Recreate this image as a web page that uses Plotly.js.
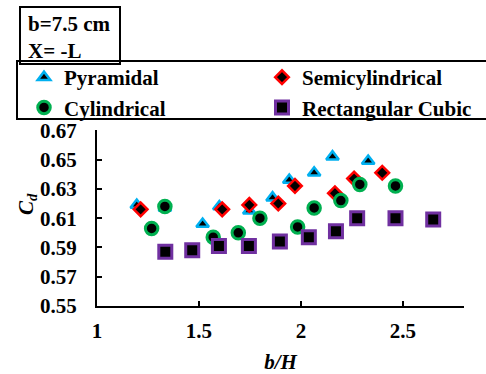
<!DOCTYPE html>
<html>
<head>
<meta charset="utf-8">
<script src="https://cdn.plot.ly/plotly-3.0.1.min.js"></script>
<style>html,body{margin:0;padding:0;background:#fff;}#chart{width:486px;height:374px;}</style>
</head>
<body>
<div id="chart"></div>
<script>
// Data
const pyrX = [1.195, 1.333, 1.518, 1.600, 1.747, 1.861, 1.943, 2.065, 2.155, 2.330];
const pyrY = [0.619, 0.617, 0.606, 0.618, 0.615, 0.624, 0.636, 0.641, 0.652, 0.649];

const semiX = [1.214, 1.614, 1.747, 1.889, 1.971, 2.167, 2.261, 2.399];
const semiY = [0.616, 0.616, 0.619, 0.620, 0.632, 0.627, 0.637, 0.641];

const cylX = [1.268, 1.333, 1.570, 1.693, 1.799, 1.984, 2.065, 2.196, 2.289, 2.464];
const cylY = [0.603, 0.618, 0.597, 0.600, 0.610, 0.604, 0.617, 0.622, 0.633, 0.632];

const rectX = [1.335, 1.467, 1.598, 1.745, 1.897, 2.039, 2.172, 2.276, 2.464, 2.649];
const rectY = [0.587, 0.588, 0.591, 0.591, 0.594, 0.597, 0.601, 0.610, 0.610, 0.609];

const seriesNames = ['Pyramidal', 'Semicylindrical', 'Cylindrical', 'Rectangular Cubic'];
const xTickVals = [1, 1.5, 2, 2.5];
const yTickVals = [0.55, 0.57, 0.59, 0.61, 0.63, 0.65, 0.67];
const yTickText = ['0.55', '0.57', '0.59', '0.61', '0.63', '0.65', '0.67'];
const infoText = 'b=7.5 cm<br>X= -L';
const xTitle = 'b/H';
const yTitle = '<i>C</i><sub><i>d</i></sub>';

const FONT = 'Liberation Serif';
const F = (size) => ({family: FONT, size: size, color: '#000000', weight: 700});

const traces = [
  {x: pyrX, y: pyrY, name: seriesNames[0], type: 'scatter', mode: 'markers', legend: 'legend',
   marker: {symbol: 'triangle-up', size: 11, color: '#000000', line: {color: '#00B0F0', width: 2.5}}},
  {x: semiX, y: semiY, name: seriesNames[1], type: 'scatter', mode: 'markers', legend: 'legend2',
   marker: {symbol: 'diamond', size: 10.5, color: '#000000', line: {color: '#FF0000', width: 2.5}}},
  {x: cylX, y: cylY, name: seriesNames[2], type: 'scatter', mode: 'markers', legend: 'legend',
   marker: {symbol: 'circle', size: 12.5, color: '#000000', line: {color: '#00B050', width: 3}}},
  {x: rectX, y: rectY, name: seriesNames[3], type: 'scatter', mode: 'markers', legend: 'legend2',
   marker: {symbol: 'square', size: 13, color: '#000000', line: {color: '#7030A0', width: 3}}}
];

const L = 97, R = 22, T = 130, B = 68;
const W = 486 - L - R, H = 374 - T - B;
const px2x = p => (p - L) / W;
const px2y = p => (374 - B - p) / H;

const layout = {
  width: 486, height: 374,
  margin: {l: L, r: R, t: T, b: B, pad: 0, autoexpand: false},
  paper_bgcolor: '#ffffff', plot_bgcolor: '#ffffff',
  font: F(21),
  showlegend: true,
  xaxis: {
    range: [1, 2.8], tickvals: xTickVals, ticks: 'inside', ticklen: 5, tickwidth: 2, tickcolor: '#000',
    showline: true, linecolor: '#000', linewidth: 2, showgrid: false, zeroline: false,
    tickfont: F(21), ticklabelstandoff: 5,
    title: {text: '<b><i>' + xTitle + '</i></b>', font: F(21), standoff: 13}
  },
  yaxis: {
    range: [0.55, 0.6702], tickvals: yTickVals, ticktext: yTickText, ticks: 'inside', ticklen: 5, tickwidth: 2, tickcolor: '#000',
    showline: true, linecolor: '#000', linewidth: 2, showgrid: false, zeroline: false,
    tickfont: F(21), ticklabelstandoff: 14
  },
  legend: {
    x: px2x(24), y: px2y(57), xanchor: 'left', yanchor: 'top', orientation: 'v',
    bgcolor: 'rgba(0,0,0,0)', borderwidth: 0, font: F(21)
  },
  legend2: {
    x: px2x(262), y: px2y(57), xanchor: 'left', yanchor: 'top', orientation: 'v',
    bgcolor: 'rgba(0,0,0,0)', borderwidth: 0, font: F(21)
  },
  shapes: [
    {type: 'rect', xref: 'paper', yref: 'paper', x0: px2x(17), x1: px2x(495), y0: px2y(119), y1: px2y(61),
     line: {color: '#000', width: 2}, fillcolor: 'rgba(0,0,0,0)'},
    {type: 'rect', xref: 'paper', yref: 'paper', x0: px2x(20), x1: px2x(120), y0: px2y(64), y1: px2y(7),
     line: {color: '#000', width: 2}, fillcolor: 'rgba(0,0,0,0)'}
  ],
  annotations: [
    {text: '<b>' + infoText + '</b>', xref: 'paper', yref: 'paper', x: px2x(26), y: px2y(37), xanchor: 'left', yanchor: 'middle',
     align: 'left', showarrow: false, font: F(21)},
    {text: '<b>' + yTitle + '</b>', xref: 'paper', yref: 'paper', x: px2x(27), y: px2y(204), xanchor: 'center', yanchor: 'middle',
     textangle: -90, showarrow: false, font: F(21)}
  ]
};

Plotly.newPlot('chart', traces, layout, {displayModeBar: false, responsive: false});
</script>
</body>
</html>
